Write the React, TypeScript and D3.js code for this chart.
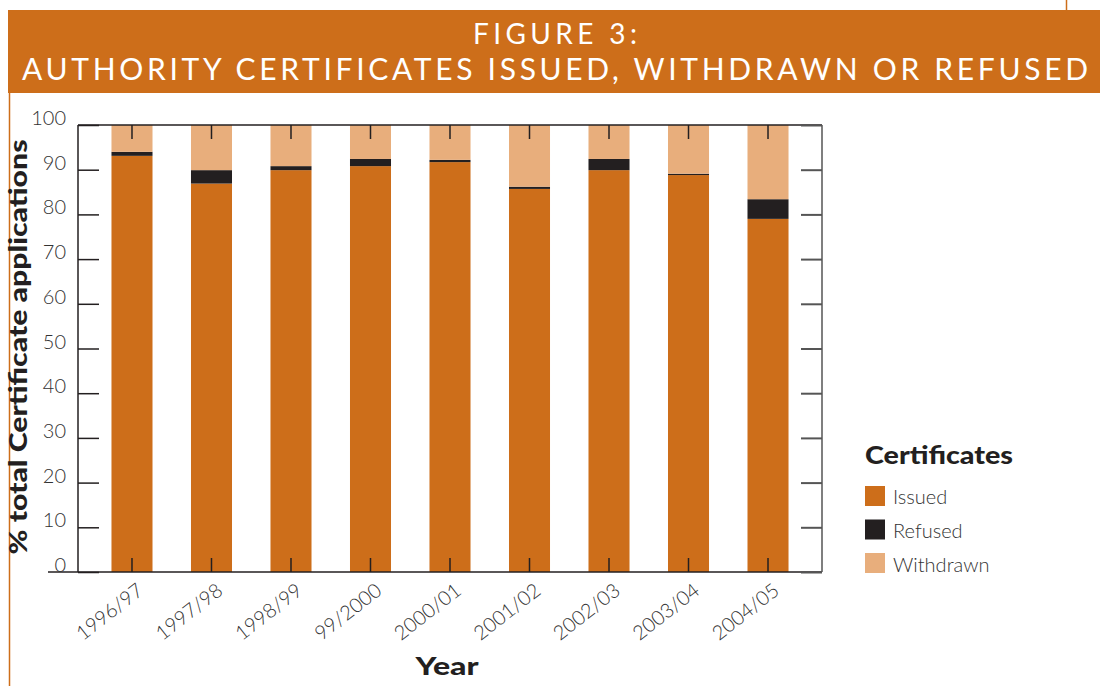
import * as d3 from 'd3'
import { useEffect, useRef } from 'react'

// data
const years = ['1996/97', '1997/98', '1998/99', '99/2000', '2000/01', '2001/02', '2002/03', '2003/04', '2004/05']
const issued = [93.1, 86.9, 89.9, 90.8, 91.7, 85.7, 89.9, 88.8, 79.0]
const refused = [0.9, 3.0, 0.9, 1.6, 0.5, 0.5, 2.5, 0.3, 4.4]
const withdrawn = [6.0, 10.1, 9.2, 7.6, 7.8, 13.8, 7.6, 10.9, 16.6]
const yTicks = [0, 10, 20, 30, 40, 50, 60, 70, 80, 90, 100]
const seriesNames = ['Issued', 'Refused', 'Withdrawn']
const seriesColors = ['#CD6E1A', '#231F20', '#E8AE7C']

const W = 1100
const H = 686
const orange = '#CD6E1A'
const ink = '#231F20'
const labelInk = '#333'
const lightFont = 'Lato, "Open Sans", sans-serif'
const boldFont = 'Lato, "Open Sans", sans-serif'

const App = () => {
  const ref = useRef<SVGSVGElement>(null)

  useEffect(() => {
    const svg = d3.select(ref.current)
    svg.selectAll('*').remove()

    const margin = { top: 125, left: 78, right: 822, bottom: 572 }

    // title banner
    svg.append('rect').attr('x', 8).attr('y', 10).attr('width', W - 8).attr('height', 83).attr('fill', orange)
    svg.append('line').attr('x1', 9.5).attr('x2', 9.5).attr('y1', 92).attr('y2', H).attr('stroke', orange).attr('stroke-width', 1.5)
    svg.append('line').attr('x1', 1066.5).attr('x2', 1066.5).attr('y1', 0).attr('y2', 10).attr('stroke', orange).attr('stroke-width', 1.5)
    svg
      .append('text')
      .attr('x', 555)
      .attr('y', 44)
      .attr('text-anchor', 'middle')
      .attr('textLength', 164)
      .attr('lengthAdjust', 'spacing')
      .style('font-family', lightFont)
      .style('font-size', '28px')
      .style('fill', '#fff')
      .text('FIGURE 3:')
    svg
      .append('text')
      .attr('x', 22)
      .attr('y', 80)
      .attr('textLength', 1066)
      .attr('lengthAdjust', 'spacing')
      .style('font-family', lightFont)
      .style('font-size', '30px')
      .style('fill', '#fff')
      .text('AUTHORITY CERTIFICATES ISSUED, WITHDRAWN OR REFUSED')

    // scales
    const x = d3.scaleBand<string>().domain(years).range([73, 827]).padding(0.484)
    const y = d3.scaleLinear().domain([0, 100]).range([margin.bottom, margin.top])

    // stacked bars
    const rows = years.map((yr, i) => ({ year: yr, Issued: issued[i], Refused: refused[i], Withdrawn: withdrawn[i] }))
    const stack = d3.stack<any>().keys(seriesNames)(rows)
    stack.forEach((layer, li) => {
      svg
        .append('g')
        .selectAll('rect')
        .data(layer)
        .enter()
        .append('rect')
        .attr('x', (d) => x(d.data.year) as number)
        .attr('width', x.bandwidth())
        .attr('y', (d) => y(Math.min(d[1], 100)))
        .attr('height', (d) => y(d[0]) - y(Math.min(d[1], 100)))
        .attr('fill', seriesColors[li])
    })

    // frame
    const frame = svg.append('g').attr('stroke', ink).attr('stroke-width', 1.5)
    frame.append('line').attr('x1', margin.left).attr('x2', margin.right).attr('y1', margin.top).attr('y2', margin.top)
    frame.append('line').attr('x1', 48).attr('x2', margin.right).attr('y1', margin.bottom).attr('y2', margin.bottom)
    frame.append('line').attr('x1', margin.left).attr('x2', margin.left).attr('y1', margin.top).attr('y2', margin.bottom)
    frame
      .append('line')
      .attr('x1', margin.right)
      .attr('x2', margin.right)
      .attr('y1', margin.top)
      .attr('y2', margin.bottom)
      .attr('stroke', '#555')

    // y ticks, left and right, pointing inward
    const yAxisLeft = d3.axisRight(y).tickValues(yTicks).tickSize(21).tickFormat(() => '')
    svg
      .append('g')
      .attr('transform', `translate(${margin.left},0)`)
      .call(yAxisLeft)
      .call((g) => g.select('.domain').remove())
      .call((g) => g.selectAll('line').attr('stroke', ink).attr('stroke-width', 1.5))
    const yAxisRight = d3.axisLeft(y).tickValues(yTicks).tickSize(21).tickFormat(() => '')
    svg
      .append('g')
      .attr('transform', `translate(${margin.right},0)`)
      .call(yAxisRight)
      .call((g) => g.select('.domain').remove())
      .call((g) => g.selectAll('line').attr('stroke', '#555').attr('stroke-width', 2))

    // y labels
    svg
      .append('g')
      .selectAll('text')
      .data(yTicks)
      .enter()
      .append('text')
      .attr('x', 66)
      .attr('y', (d) => y(d))
      .attr('text-anchor', 'end')
      .style('font-family', lightFont)
      .style('font-weight', '300')
      .style('font-size', '20px')
      .style('fill', labelInk)
      .text((d) => d)

    // x ticks top and bottom
    const xTop = d3.axisBottom(x).tickSize(14).tickFormat(() => '')
    svg
      .append('g')
      .attr('transform', `translate(0,${margin.top})`)
      .call(xTop)
      .call((g) => g.select('.domain').remove())
      .call((g) => g.selectAll('line').attr('stroke', ink).attr('stroke-width', 1.5))
    const xBottom = d3.axisTop(x).tickSize(14).tickFormat(() => '')
    svg
      .append('g')
      .attr('transform', `translate(0,${margin.bottom})`)
      .call(xBottom)
      .call((g) => g.select('.domain').remove())
      .call((g) => g.selectAll('line').attr('stroke', ink).attr('stroke-width', 1.5))

    // x labels, rotated
    svg
      .append('g')
      .selectAll('text')
      .data(years)
      .enter()
      .append('text')
      .attr(
        'transform',
        (d) => `translate(${(x(d) as number) + x.bandwidth() / 2 + 4},${margin.bottom + 10}) rotate(-38)`,
      )
      .attr('text-anchor', 'end')
      .attr('dy', '0.7em')
      .style('font-family', lightFont)
      .style('font-weight', '300')
      .style('font-size', '20px')
      .style('fill', labelInk)
      .text((d) => d)

    // axis titles
    svg
      .append('text')
      .attr('x', 447)
      .attr('y', 675)
      .attr('text-anchor', 'middle')
      .attr('textLength', 63)
      .attr('lengthAdjust', 'spacingAndGlyphs')
      .style('font-family', boldFont)
      .style('font-weight', '900')
      .style('font-size', '25px')
      .style('fill', ink)
      .text('Year')
    svg
      .append('text')
      .attr('transform', 'translate(27,347) rotate(-90)')
      .attr('text-anchor', 'middle')
      .attr('textLength', 415)
      .attr('lengthAdjust', 'spacingAndGlyphs')
      .style('font-family', boldFont)
      .style('font-weight', '900')
      .style('font-size', '25px')
      .style('fill', ink)
      .text('% total Certificate applications')

    // legend
    const legend = svg.append('g')
    legend
      .append('text')
      .attr('x', 865)
      .attr('y', 464)
      .attr('textLength', 148)
      .attr('lengthAdjust', 'spacingAndGlyphs')
      .style('font-family', boldFont)
      .style('font-weight', '900')
      .style('font-size', '25px')
      .style('fill', ink)
      .text('Certificates')
    seriesNames.forEach((name, i) => {
      legend
        .append('rect')
        .attr('x', 865)
        .attr('y', 486 + i * 33.5)
        .attr('width', 20)
        .attr('height', 20)
        .attr('fill', seriesColors[i])
      legend
        .append('text')
        .attr('x', 893)
        .attr('y', 504 + i * 34)
        .style('font-family', lightFont)
        .style('font-weight', '300')
        .style('font-size', '20px')
        .style('fill', labelInk)
        .text(name)
    })
  }, [])

  return (
    <div style={{ position: 'absolute', left: 0, top: 0 }}>
      <svg ref={ref} width={W} height={H} style={{ display: 'block', background: '#fff' }} />
    </div>
  )
}

export default App
